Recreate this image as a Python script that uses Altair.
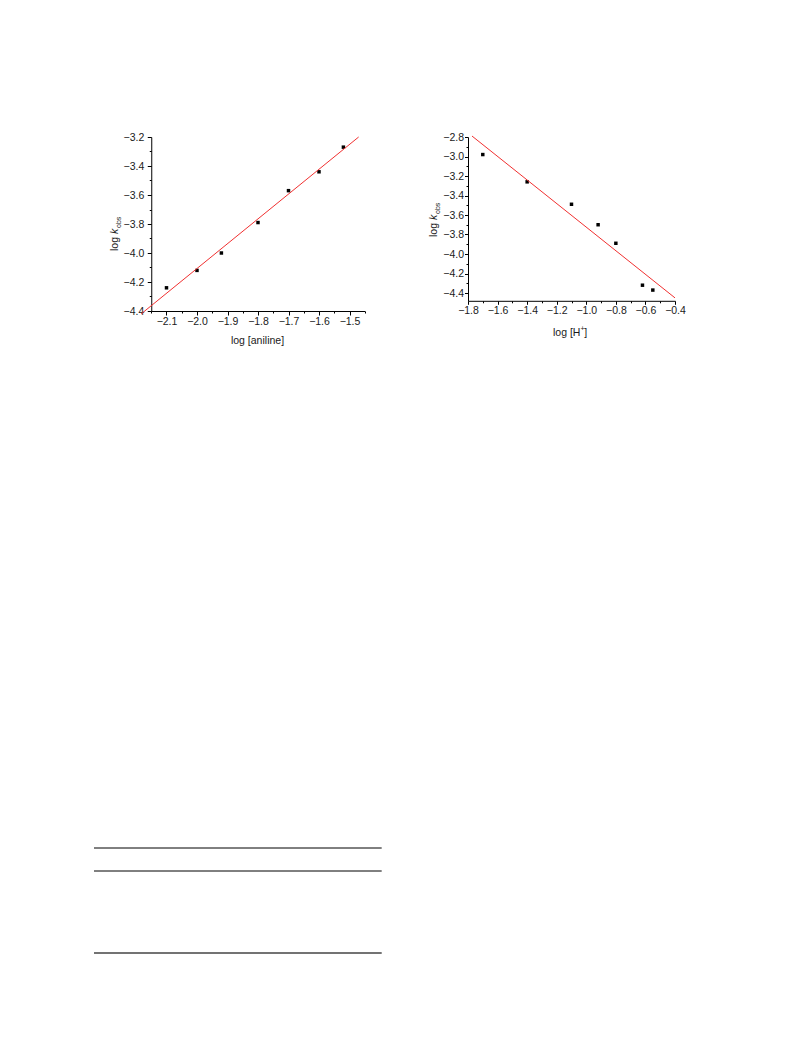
import altair as alt
import pandas as pd

# ---------------- data ----------------
aniline_log = [-2.10, -2.00, -1.92, -1.80, -1.70, -1.60, -1.52]
aniline_logk = [-4.24, -4.12, -4.00, -3.79, -3.57, -3.44, -3.27]
aniline_fit_x = [-2.183, -1.470]
aniline_fit_y = [-4.42, -3.20]

acid_log = [-1.70, -1.40, -1.10, -0.92, -0.80, -0.62, -0.55]
acid_logk = [-2.98, -3.26, -3.49, -3.70, -3.89, -4.32, -4.37]
acid_fit_x = [-1.773, -0.40]
acid_fit_y = [-2.79, -4.45]

# tick values
L_x_major = [-2.1, -2.0, -1.9, -1.8, -1.7, -1.6, -1.5]
L_x_minor = [-2.15, -2.05, -1.95, -1.85, -1.75, -1.65, -1.55, -1.45]
L_y_major = [-4.4, -4.2, -4.0, -3.8, -3.6, -3.4, -3.2]
L_y_minor = [-4.3, -4.1, -3.9, -3.7, -3.5, -3.3]
R_x_major = [-1.8, -1.6, -1.4, -1.2, -1.0, -0.8, -0.6, -0.4]
R_x_minor = [-1.7, -1.5, -1.3, -1.1, -0.9, -0.7, -0.5]
R_y_major = [-4.4, -4.2, -4.0, -3.8, -3.6, -3.4, -3.2, -3.0, -2.8]
R_y_minor = [-4.3, -4.1, -3.9, -3.7, -3.5, -3.3, -3.1, -2.9]

# ---------------- layout ----------------
W, H = 700, 980
FONT = "Liberation Sans"
INK = "#1a1a1a"
RED = "#f03030"
LABEL_SIZE = 10.5
TITLE_SIZE = 10.5

# plot-area placement (pixels inside the canvas)
LX = [143.25, 356.75]
LY = [303.0, 129.0]
RX = [460.0, 667.0]
RY = [292.8, 129.0]

sxL = alt.Scale(domain=[-2.15, -1.45], range=LX, nice=False, zero=False)
syL = alt.Scale(domain=[-4.4, -3.2], range=LY, nice=False, zero=False)
sxR = alt.Scale(domain=[-1.8, -0.4], range=RX, nice=False, zero=False)
syR = alt.Scale(domain=[-4.48, -2.8], range=RY, nice=False, zero=False)


def major_axis(values, orient, offset, tick_size, pad):
    return alt.Axis(values=values, orient=orient, offset=offset, format=".1f",
                    grid=False, domain=True, domainColor="black", domainWidth=1,
                    ticks=True, tickColor="black", tickSize=tick_size, tickWidth=1,
                    labels=True, labelFont=FONT, labelFontSize=LABEL_SIZE, labelColor=INK,
                    labelPadding=pad, labelFlush=False, labelOverlap=False,
                    labelBound=False, title="")


def minor_axis(values, orient, offset):
    return alt.Axis(values=values, orient=orient, offset=offset, grid=False,
                    domain=False, ticks=True, tickColor="black", tickSize=2,
                    tickWidth=1, labels=False, title="")


dfL = pd.DataFrame({"x": aniline_log, "y": aniline_logk})
dfLf = pd.DataFrame({"x": aniline_fit_x, "y": aniline_fit_y})
dfR = pd.DataFrame({"x": acid_log, "y": acid_logk})
dfRf = pd.DataFrame({"x": acid_fit_x, "y": acid_fit_y})

layers = []

# ----- left panel -----
layers.append(alt.Chart(dfL).mark_square(size=12, color="black", opacity=1).encode(
    x=alt.X("x:Q", scale=sxL, axis=major_axis(L_x_major, "bottom", LY[0] - H, 4, 1.5)),
    y=alt.Y("y:Q", scale=syL, axis=major_axis(L_y_major, "left", -LX[0], 4, 3.5)),
))
layers.append(alt.Chart(dfL).mark_square(size=12, opacity=0).encode(
    x=alt.X("x:Q", scale=sxL, axis=minor_axis(L_x_minor, "bottom", LY[0] - H)),
    y=alt.Y("y:Q", scale=syL, axis=minor_axis(L_y_minor, "left", -LX[0])),
))
layers.append(alt.Chart(dfLf).mark_line(color=RED, strokeWidth=1, clip=False).encode(
    x=alt.X("x:Q", scale=sxL, axis=None),
    y=alt.Y("y:Q", scale=syL, axis=None),
))

# ----- right panel -----
layers.append(alt.Chart(dfR).mark_square(size=12, color="black", opacity=1).encode(
    x=alt.X("x:Q", scale=sxR, axis=major_axis(R_x_major, "bottom", RY[0] - H, 3.5, 1.5)),
    y=alt.Y("y:Q", scale=syR, axis=major_axis(R_y_major, "left", -RX[0], 3.5, 1)),
))
layers.append(alt.Chart(dfR).mark_square(size=12, opacity=0).encode(
    x=alt.X("x:Q", scale=sxR, axis=minor_axis(R_x_minor, "bottom", RY[0] - H)),
    y=alt.Y("y:Q", scale=syR, axis=minor_axis(R_y_minor, "left", -RX[0])),
))
layers.append(alt.Chart(dfRf).mark_line(color=RED, strokeWidth=1, clip=False).encode(
    x=alt.X("x:Q", scale=sxR, axis=None),
    y=alt.Y("y:Q", scale=syR, axis=None),
))


# ----- rich-text axis titles -----
def txt(s, x, y, size=TITLE_SIZE, align="left", angle=0, style="normal"):
    return alt.Chart(alt.Data(values=[{}])).mark_text(
        text=s, font=FONT, fontSize=size, color=INK, align=align,
        baseline="middle", angle=angle, fontStyle=style,
    ).encode(x=alt.value(x), y=alt.value(y))


# left x title
layers.append(txt("log [aniline]", 249.5, 332.5, align="center"))
# right x title: log [H+]
layers.append(txt("log [H", 572.4, 325, align="right"))
layers.append(txt("+", 574.5, 320.5, size=7, align="center"))
layers.append(txt("]", 576.2, 325, align="left"))

# left y title: log k_obs
layers.append(txt("log ", 107, 243, angle=270))
layers.append(txt("k", 107, 226, angle=270, style="italic"))
layers.append(txt("obs", 110.5, 220, size=7, angle=270))
# right y title
layers.append(txt("log ", 426, 229, angle=270))
layers.append(txt("k", 426, 212, angle=270, style="italic"))
layers.append(txt("obs", 429.5, 206, size=7, angle=270))

# ----- table rules at the bottom of the page -----
def hrule(y, color="black", w=1.0):
    return alt.Chart(alt.Data(values=[{}])).mark_rule(color=color, strokeWidth=w).encode(
        x=alt.value(86), x2=alt.value(373.7), y=alt.value(y))


layers.append(hrule(840))
layers.append(hrule(863))
layers.append(hrule(945, color="#444444", w=1.3))

chart = alt.layer(*layers).resolve_scale(
    x="independent", y="independent"
).resolve_axis(
    x="independent", y="independent"
).properties(
    width=W, height=H, padding=0,
    autosize=alt.AutoSizeParams(type="none"),
).configure_view(strokeWidth=0)

chart.save("out.html", embed_options={"renderer": "svg", "actions": False})
